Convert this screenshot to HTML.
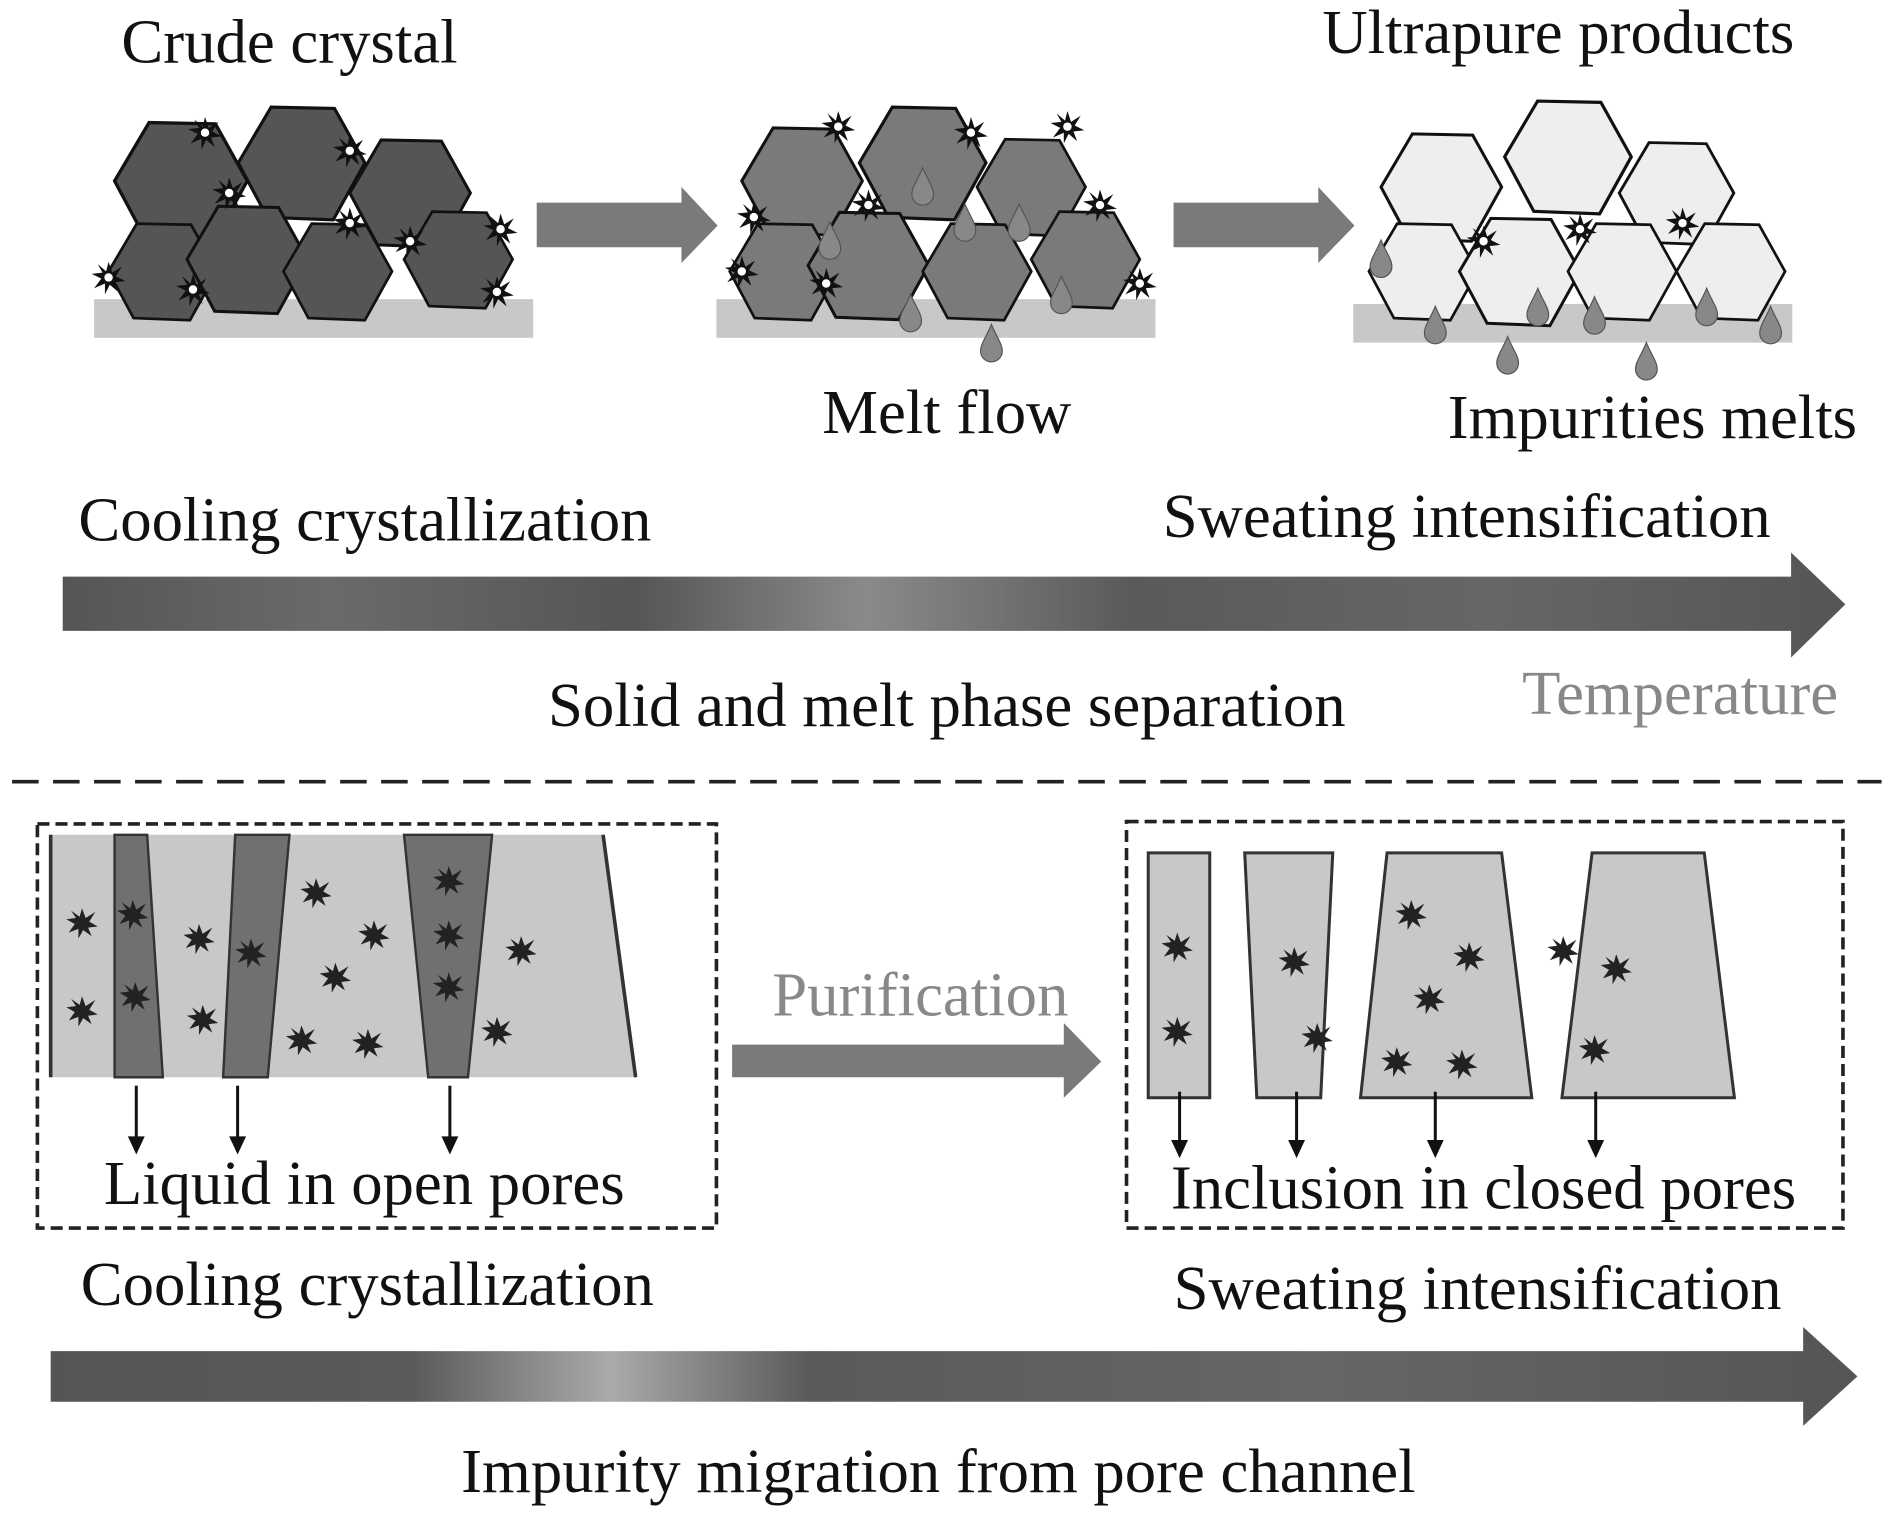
<!DOCTYPE html>
<html><head><meta charset="utf-8"><style>html,body{margin:0;padding:0;background:#fff}svg{display:block}</style></head>
<body>
<svg width="1890" height="1526" viewBox="0 0 1567 1265" preserveAspectRatio="none" xmlns="http://www.w3.org/2000/svg">
<defs>
<polygon id="h" points="50,0 25,45 -27,43 -50,0 -24,-44 26,-43" stroke="#111" stroke-width="2.5"/>
<g id="st"><polygon points="0,-13 3,-4 11,-9 6,-1 14,3 5,4 8,12 1,6 -3,14 -3,5 -12,9 -6,1 -14,-3 -5,-4 -9,-11 -2,-5" fill="#111"/><circle r="3.5" fill="#fff"/></g>
<g id="ds"><polygon points="0,-12 3,-4 11,-9 6,-1 13,3 5,4 8,11 1,6 -3,13 -3,5 -11,8 -6,1 -13,-3 -5,-4 -9,-10 -2,-5" fill="#222"/></g>
<path id="dr" d="M0,-16 C4,-6 9,0 9,6 A9,9 0 0 1 -9,6 C-9,0 -4,-6 0,-16Z" fill="#888" stroke="#555" stroke-width="1"/>
<linearGradient id="g1" x1="0" x2="1"><stop offset="0" stop-color="#555"/><stop offset="0.15" stop-color="#6a6a6a"/><stop offset="0.32" stop-color="#555"/><stop offset="0.45" stop-color="#8a8a8a"/><stop offset="0.6" stop-color="#5a5a5a"/><stop offset="0.8" stop-color="#666"/><stop offset="1" stop-color="#555"/></linearGradient>
<linearGradient id="g2" x1="0" x2="1"><stop offset="0" stop-color="#555"/><stop offset="0.2" stop-color="#5a5a5a"/><stop offset="0.31" stop-color="#aaa"/><stop offset="0.42" stop-color="#5a5a5a"/><stop offset="0.7" stop-color="#666"/><stop offset="1" stop-color="#555"/></linearGradient>
</defs>
<g font-family="Liberation Serif, serif" font-size="52" fill="#111" text-anchor="middle">
<text x="240" y="52">Crude crystal</text>
<text x="1292" y="44">Ultrapure products</text>
<text x="785" y="359">Melt flow</text>
<text x="1370" y="363">Impurities melts</text>
<text x="65" y="448" text-anchor="start">Cooling crystallization</text>
<text x="1216" y="445">Sweating intensification</text>
<text x="785" y="602">Solid and melt phase separation</text>
<text x="1393" y="592" fill="#888">Temperature</text>
<text x="763" y="842" fill="#888">Purification</text>
<text x="302" y="998">Liquid in open pores</text>
<text x="1230" y="1002">Inclusion in closed pores</text>
<text x="67" y="1082" text-anchor="start">Cooling crystallization</text>
<text x="1225" y="1085">Sweating intensification</text>
<text x="778" y="1237">Impurity migration from pore channel</text>
</g>
<!-- clusters -->
<rect x="78" y="248" width="364" height="32" fill="#c8c8c8"/>
<rect x="594" y="248" width="364" height="32" fill="#c8c8c8"/>
<rect x="1122" y="252" width="364" height="32" fill="#c8c8c8"/>
<g fill="#555">
<use href="#h" transform="translate(150,150) scale(1.1)"/><use href="#h" transform="translate(250,135) scale(1.05)"/><use href="#h" transform="translate(340,160) scale(1.0)"/>
<use href="#h" transform="translate(135,225) scale(0.9)"/><use href="#h" transform="translate(205,215) scale(1.0)"/><use href="#h" transform="translate(280,225) scale(0.9)"/><use href="#h" transform="translate(380,215) scale(0.9)"/>
</g>
<g fill="#7a7a7a">
<use href="#h" transform="translate(665,150) scale(1.0)"/><use href="#h" transform="translate(765,135) scale(1.05)"/><use href="#h" transform="translate(855,155) scale(0.9)"/>
<use href="#h" transform="translate(650,225) scale(0.9)"/><use href="#h" transform="translate(720,220) scale(1.0)"/><use href="#h" transform="translate(810,225) scale(0.9)"/><use href="#h" transform="translate(900,215) scale(0.9)"/>
</g>
<g fill="#eee">
<use href="#h" transform="translate(1195,155) scale(1.0)"/><use href="#h" transform="translate(1300,130) scale(1.05)"/><use href="#h" transform="translate(1390,160) scale(0.95)"/>
<use href="#h" transform="translate(1180,225) scale(0.9)"/><use href="#h" transform="translate(1260,225) scale(1.0)"/><use href="#h" transform="translate(1345,225) scale(0.9)"/><use href="#h" transform="translate(1435,225) scale(0.9)"/>
</g>
<g>
<use href="#st" transform="translate(170,110)"/><use href="#st" transform="translate(290,125)"/><use href="#st" transform="translate(190,160)"/><use href="#st" transform="translate(290,185)"/><use href="#st" transform="translate(340,200)"/><use href="#st" transform="translate(90,230)"/><use href="#st" transform="translate(160,240)"/><use href="#st" transform="translate(415,190)"/><use href="#st" transform="translate(412,242)"/>
<use href="#st" transform="translate(695,105)"/><use href="#st" transform="translate(805,110)"/><use href="#st" transform="translate(885,105)"/><use href="#st" transform="translate(720,170)"/><use href="#st" transform="translate(625,180)"/><use href="#st" transform="translate(615,225)"/><use href="#st" transform="translate(685,235)"/><use href="#st" transform="translate(912,170)"/><use href="#st" transform="translate(945,235)"/>
<use href="#st" transform="translate(1230,200)"/><use href="#st" transform="translate(1310,190)"/><use href="#st" transform="translate(1395,185)"/>
</g>
<g>
<use href="#dr" transform="translate(765,155)"/><use href="#dr" transform="translate(688,200)"/><use href="#dr" transform="translate(800,185)"/><use href="#dr" transform="translate(845,185)"/><use href="#dr" transform="translate(755,260)"/><use href="#dr" transform="translate(880,245)"/><use href="#dr" transform="translate(822,285)"/>
<use href="#dr" transform="translate(1145,215)"/><use href="#dr" transform="translate(1190,270)"/><use href="#dr" transform="translate(1250,295)"/><use href="#dr" transform="translate(1275,255)"/><use href="#dr" transform="translate(1322,262)"/><use href="#dr" transform="translate(1365,300)"/><use href="#dr" transform="translate(1415,255)"/><use href="#dr" transform="translate(1468,270)"/>
</g>
<!-- small arrows -->
<polygon points="445,168 565,168 565,155 595,187 565,218 565,205 445,205" fill="#7a7a7a"/>
<polygon points="973,168 1093,168 1093,155 1123,187 1093,218 1093,205 973,205" fill="#7a7a7a"/>
<!-- big arrows -->
<polygon points="52,478 1485,478 1485,458 1530,501 1485,545 1485,523 52,523" fill="url(#g1)"/>
<polygon points="42,1120 1495,1120 1495,1100 1540,1141 1495,1182 1495,1162 42,1162" fill="url(#g2)"/>
<line x1="10" y1="648" x2="1560" y2="648" stroke="#222" stroke-width="3" stroke-dasharray="22,12"/>
<!-- bottom left -->
<rect x="31" y="683" width="563" height="335" fill="none" stroke="#222" stroke-width="3" stroke-dasharray="10,5"/>
<polygon points="42,692 500,692 527,893 42,893" fill="#c8c8c8"/>
<line x1="42" y1="692" x2="42" y2="893" stroke="#333" stroke-width="3"/>
<line x1="500" y1="692" x2="527" y2="893" stroke="#333" stroke-width="3"/>
<polygon points="95,692 122,692 135,893 95,893" fill="#707070" stroke="#333" stroke-width="2"/>
<polygon points="195,692 240,692 222,893 185,893" fill="#707070" stroke="#333" stroke-width="2"/>
<polygon points="335,692 408,692 388,893 355,893" fill="#707070" stroke="#333" stroke-width="2"/>
<g>
<use href="#ds" transform="translate(68,765)"/><use href="#ds" transform="translate(68,838)"/><use href="#ds" transform="translate(110,758)"/><use href="#ds" transform="translate(112,826)"/><use href="#ds" transform="translate(165,778)"/><use href="#ds" transform="translate(168,845)"/><use href="#ds" transform="translate(208,790)"/><use href="#ds" transform="translate(262,740)"/><use href="#ds" transform="translate(278,810)"/><use href="#ds" transform="translate(250,862)"/><use href="#ds" transform="translate(305,865)"/><use href="#ds" transform="translate(310,775)"/><use href="#ds" transform="translate(372,730)"/><use href="#ds" transform="translate(372,775)"/><use href="#ds" transform="translate(372,818)"/><use href="#ds" transform="translate(432,788)"/><use href="#ds" transform="translate(412,855)"/>
</g>
<g stroke="#111" stroke-width="2.5" fill="#111">
<line x1="113" y1="900" x2="113" y2="950"/><polygon points="106,942 120,942 113,957" stroke="none"/>
<line x1="197" y1="900" x2="197" y2="950"/><polygon points="190,942 204,942 197,957" stroke="none"/>
<line x1="373" y1="900" x2="373" y2="950"/><polygon points="366,942 380,942 373,957" stroke="none"/>
</g>
<polygon points="607,866 882,866 882,848 913,880 882,910 882,893 607,893" fill="#7a7a7a"/>
<!-- bottom right -->
<rect x="934" y="681" width="594" height="337" fill="none" stroke="#222" stroke-width="3" stroke-dasharray="10,5"/>
<g fill="#c8c8c8" stroke="#333" stroke-width="2.5">
<polygon points="952,707 1003,707 1003,910 952,910"/>
<polygon points="1032,707 1105,707 1095,910 1042,910"/>
<polygon points="1150,707 1245,707 1270,910 1128,910"/>
<polygon points="1320,707 1413,707 1438,910 1295,910"/>
</g>
<g>
<use href="#ds" transform="translate(976,785)"/><use href="#ds" transform="translate(976,855)"/><use href="#ds" transform="translate(1073,797)"/><use href="#ds" transform="translate(1092,860)"/><use href="#ds" transform="translate(1170,758)"/><use href="#ds" transform="translate(1218,793)"/><use href="#ds" transform="translate(1185,828)"/><use href="#ds" transform="translate(1158,880)"/><use href="#ds" transform="translate(1212,882)"/><use href="#ds" transform="translate(1296,788)"/><use href="#ds" transform="translate(1340,803)"/><use href="#ds" transform="translate(1322,870)"/>
</g>
<g stroke="#111" stroke-width="2.5" fill="#111">
<line x1="978" y1="905" x2="978" y2="953"/><polygon points="971,945 985,945 978,960" stroke="none"/>
<line x1="1075" y1="905" x2="1075" y2="953"/><polygon points="1068,945 1082,945 1075,960" stroke="none"/>
<line x1="1190" y1="905" x2="1190" y2="953"/><polygon points="1183,945 1197,945 1190,960" stroke="none"/>
<line x1="1323" y1="905" x2="1323" y2="953"/><polygon points="1316,945 1330,945 1323,960" stroke="none"/>
</g>
</svg>
</body></html>
